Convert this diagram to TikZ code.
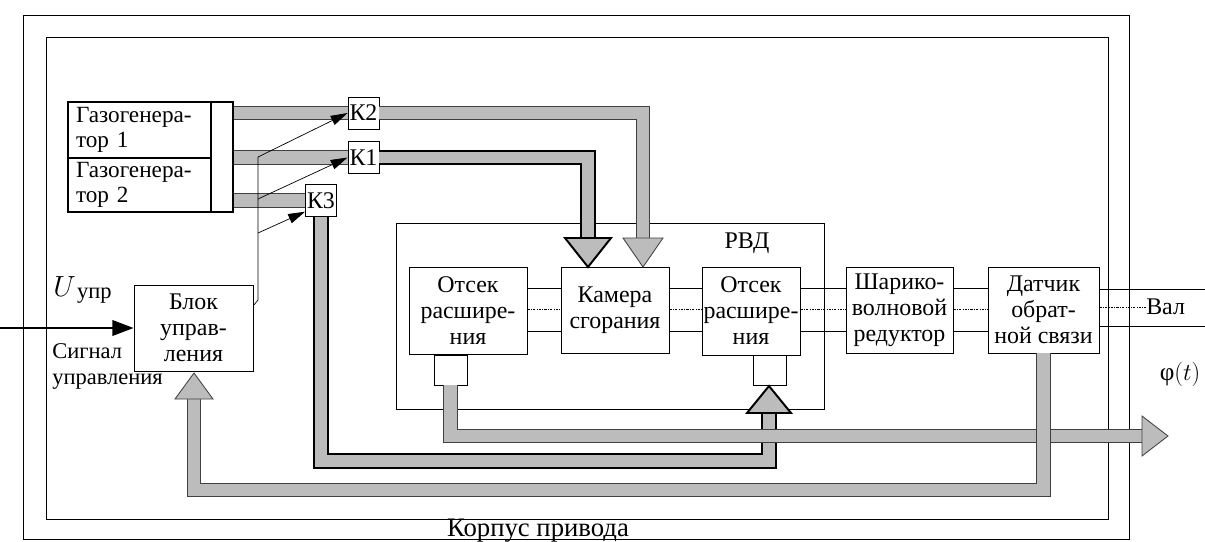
\documentclass[tikz,border=0pt]{standalone}
\usepackage{fontspec}
\setmainfont{Liberation Serif}
\usetikzlibrary{arrows.meta}
\newlength\pxl
\setlength\pxl{0.025cm}
\definecolor{pipegray}{RGB}{188,188,188}
\tikzset{
  blk/.style={draw,line width=0.6pt,align=center,inner sep=1pt,
    font=\fontsize{17}{18.5}\selectfont},
  gg/.style={draw,line width=1.3pt,align=left,inner sep=0pt,text width=127\pxl,
    minimum width=143\pxl,font=\fontsize{16.5}{18}\selectfont},
  kbox/.style={draw,line width=0.6pt,inner sep=0pt,minimum width=31\pxl,
    minimum height=32\pxl,font=\fontsize{17}{18}\selectfont},
  pipe/.style={draw=black!75,line width=0.6pt,double=pipegray,double distance=8.8pt},
  hpipe/.style={draw=black,line width=1.4pt,double=pipegray,double distance=8pt},
  head/.style={draw=black!75,line width=0.6pt,fill=pipegray},
  hhead/.style={draw=black,line width=1.4pt,fill=pipegray},
  shaft/.style={line width=0.6pt},
  axis/.style={line width=0.5pt,dash pattern=on 1.6pt off 1pt on 0.4pt off 1pt},
  ctrl/.style={line width=0.5pt,-{Triangle[length=12pt,width=7pt]}},
  lbl/.style={font=\fontsize{17}{19}\selectfont}
}
\begin{document}
\begin{tikzpicture}[x=0.025cm,y=-0.025cm,font=\fontsize{16}{18.5}\selectfont]
\useasboundingbox (0,0) rectangle (1205,541);

% корпус привода
\draw[line width=0.7pt] (23,15) rectangle (1129,539);
\draw[line width=0.6pt] (46,37) rectangle (1108,519);
\node[anchor=base,font=\fontsize{19}{19}\selectfont] (korp) at (538,536) {Корпус привода};

% газогенераторы и клапаны
\node[gg,minimum height=56\pxl] (GG1) at (139.5,130) {Газогенера-\\тор 1};
\node[gg,minimum height=54\pxl] (GG2) at (139.5,185) {Газогенера-\\тор 2};
\node[draw,line width=1.3pt,inner sep=0pt,minimum width=22\pxl,minimum height=110\pxl] (GGc) at (222,157) {};
\node[kbox] (K2) at (363.5,113) {К2};
\node[kbox] (K1) at (363.5,157.5) {К1};
\node[kbox] (K3) at (321,200.5) {К3};
\node[blk,minimum width=119\pxl,minimum height=86\pxl] (BU) at (193.5,328) {Блок\\управ-\\ления};

% РВД
\node[draw,line width=0.6pt,minimum width=428\pxl,minimum height=186\pxl] (RVD) at (610,316) {};
\node[lbl] (rvdtxt) at (747,243) {РВД};
\node[blk,minimum width=118\pxl,minimum height=87\pxl] (OR1) at (468,310.5) {Отсек\\расшире-\\ния};
\node[blk,minimum width=108\pxl,minimum height=86\pxl] (KS) at (615,310) {Камера\\сгорания};
\node[blk,minimum width=98\pxl,minimum height=88\pxl] (OR2) at (751,311) {Отсек\\расшире-\\ния};
\node[draw,line width=0.6pt,minimum width=33\pxl,minimum height=30\pxl] (S1) at (450.5,370) {};
\node[draw,line width=0.6pt,minimum width=33\pxl,minimum height=30\pxl] (S2) at (769.5,370) {};
\node[blk,minimum width=107\pxl,minimum height=86\pxl] (SVR) at (899.5,310) {Шарико-\\волновой\\редуктор};
\node[blk,minimum width=111\pxl,minimum height=86\pxl] (DOS) at (1043.5,310) {Датчик\\обрат-\\ной связи};
\node[lbl,anchor=west,inner sep=0pt] (Val) at (1146,307) {Вал};
\node[font=\fontsize{18}{20}\selectfont] (phi) at (1180,374) {φ$(t)$};

% вал
\coordinate (sT) at (0,288);
\coordinate (sM) at (0,309);
\coordinate (sB) at (0,331);
\coordinate (vT) at (0,289);
\coordinate (vB) at (0,326);
\coordinate (edge) at (1205,0);
\foreach \a/\b in {OR1/KS,KS/OR2,OR2/SVR,SVR/DOS}{
  \draw[shaft] (\a.east |- sT) -- (\b.west |- sT);
  \draw[shaft] (\a.east |- sB) -- (\b.west |- sB);
  \draw[axis] (\a.east |- sM) -- (\b.west |- sM);
}
\draw[shaft] (DOS.east |- vT) -- (edge |- vT);
\draw[shaft] (DOS.east |- vB) -- (edge |- vB);
\draw[axis] (DOS.east |- Val.west) -- (Val.west);

% газовые магистрали
\coordinate (bA) at (588,238);
\coordinate (bB) at (643,238);
\coordinate (bC) at (769,413);
\coordinate (bD) at (1142,436);
\coordinate (bE) at (194,399);
\coordinate (lowC) at (0,461);
\coordinate (lowE) at (0,490);
\draw[pipe] (GGc.east |- K2) -- (K2.west);
\draw[pipe] (GGc.east |- K1) -- (K1.west);
\draw[pipe] (GGc.east |- K3) -- (K3.west);
\draw[pipe] (K2.east) -| (bB);
\draw[hpipe] (K1.east) -| (bA);
\draw[hpipe] (K3.south) |- (lowC -| bC) -- (bC);
\draw[pipe] (S1.south) |- (bD);
\draw[pipe] (DOS.south) |- (lowE -| bE) -- (bE);
\draw[hhead] (bA) ++(-23,0) -- ++(46,0) -- ++(-23,29) -- cycle;
\draw[head] (bB) ++(-20,0) -- ++(40,0) -- ++(-20,29) -- cycle;
\draw[hhead] (bC) ++(-22,0) -- ++(44,0) -- ++(-22,-27) -- cycle;
\draw[head] (bD) ++(0,-20) -- ++(0,40) -- ++(26,-20) -- cycle;
\draw[head] (bE) ++(-19,0) -- ++(38,0) -- ++(-19,-26) -- cycle;

% сигналы управления
\coordinate (bus0) at (258,300);
\coordinate (bus2) at (258,157);
\coordinate (bus1) at (258,199);
\coordinate (bus3) at (258,233);
\draw[line width=0.5pt] (BU.north east) ++(0,21) -- (bus0) -- (bus2);
\draw[ctrl] (bus2) -- (K2.west);
\draw[ctrl] (bus1) -- (K1.west);
\draw[ctrl] (bus3) -- ([yshift=-0.28cm]K3.west);
\coordinate (inL) at (0,328);
\draw[line width=1.4pt,-{Triangle[length=15pt,width=11pt]}] (inL) -- (BU.west);
\node[anchor=base west,inner sep=0pt] (Ulab) at (53,296) {\fontsize{22}{22}\selectfont$U$\kern1pt\fontsize{16}{18}\selectfont\raisebox{-2pt}{упр}};
\node[anchor=north west,align=left,inner sep=0pt] (sig) at (52,343) {Сигнал\\управления};
\end{tikzpicture}
\end{document}
